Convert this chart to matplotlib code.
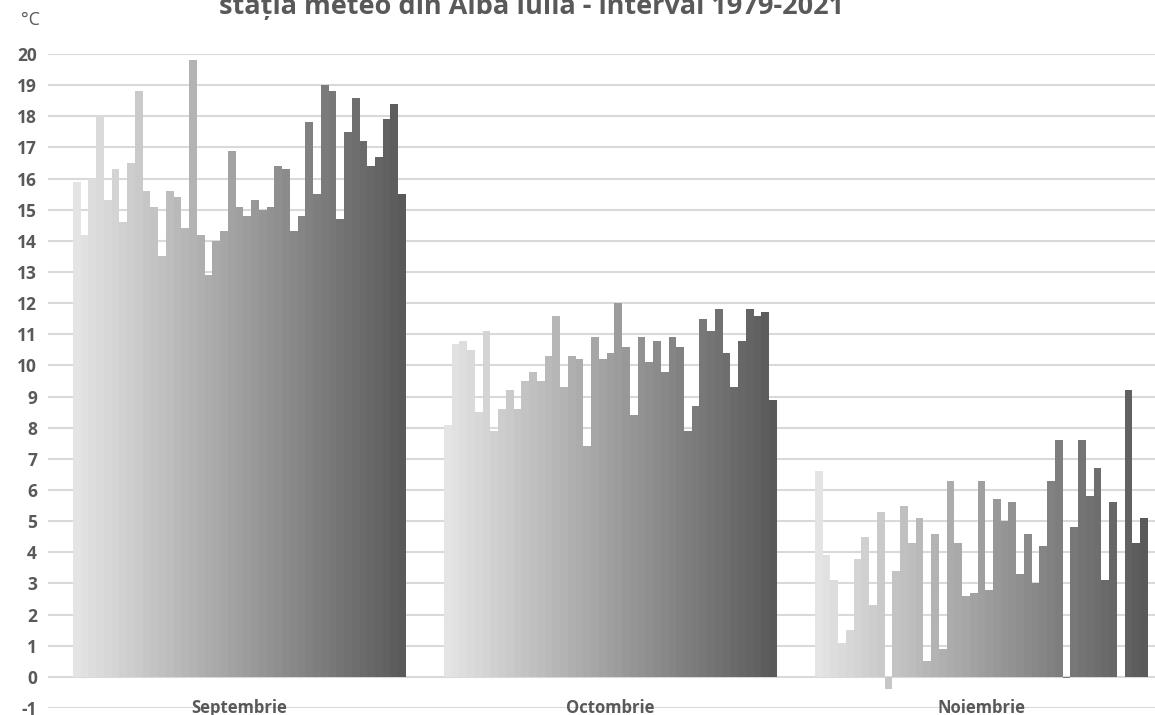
import numpy as np
import matplotlib
matplotlib.use('Agg')
import matplotlib.pyplot as plt
from matplotlib.colors import to_hex

# monthly mean temperature, Alba Iulia, 1979-2021
years = list(range(1979, 2022))
months = ['Septembrie', 'Octombrie', 'Noiembrie']

septembrie = [15.9, 14.2, 16.0, 18.0, 15.3, 16.3, 14.6, 16.5, 18.8, 15.6,
              15.1, 13.5, 15.6, 15.4, 14.4, 19.8, 14.2, 12.9, 14.0, 14.3,
              16.9, 15.1, 14.8, 15.3, 15.0, 15.1, 16.4, 16.3, 14.3, 14.8,
              17.8, 15.5, 19.0, 18.8, 14.7, 17.5, 18.6, 17.2, 16.4, 16.7,
              17.9, 18.4, 15.5]
octombrie = [8.1, 10.7, 10.8, 10.5, 8.5, 11.1, 7.9, 8.6, 9.2, 8.6,
             9.5, 9.8, 9.5, 10.3, 11.6, 9.3, 10.3, 10.2, 7.4, 10.9,
             10.2, 10.4, 12.0, 10.6, 8.4, 10.9, 10.1, 10.8, 9.8, 10.9,
             10.6, 7.9, 8.7, 11.5, 11.1, 11.8, 10.4, 9.3, 10.8, 11.8,
             11.6, 11.7, 8.9]
noiembrie = [6.6, 3.9, 3.1, 1.1, 1.5, 3.8, 4.5, 2.3, 5.3, -0.4,
             3.4, 5.5, 4.3, 5.1, 0.5, 4.6, 0.9, 6.3, 4.3, 2.6,
             2.7, 6.3, 2.8, 5.7, 5.0, 5.6, 3.3, 4.6, 3.0, 4.2,
             6.3, 7.6, -0.05, 4.8, 7.6, 5.8, 6.7, 3.1, 5.6, np.nan,
             9.2, 4.3, 5.1]

data = np.array([septembrie, octombrie, noiembrie])

txt = '#595959'
plt.rcParams['font.family'] = ['Open Sans', 'DejaVu Sans']
plt.rcParams['axes.unicode_minus'] = False

fig = plt.figure(figsize=(11.55, 7.15), dpi=100)
ax = fig.add_axes([0.0416, 0.0098, 0.9584, 0.9147])

n = len(years)
w = 1 / 47.9
x = np.arange(len(months))
for j in range(n):
    g = 228 - (228 - 90) * j / (n - 1)
    ax.bar(x + (j - (n - 1) / 2) * w, data[:, j], width=w,
           color=to_hex((g / 255,) * 3), linewidth=0, zorder=2)

ax.set_ylim(-1, 20)
ax.set_xlim(-0.516, 2.468)
ax.set_yticks(range(-1, 21))
ax.yaxis.grid(True, color='#d9d9d9', linewidth=1.5, zorder=0)
ax.set_axisbelow(True)
ax.set_xticks([])
ax.tick_params(axis='y', length=0, pad=8, labelsize=12.5, labelcolor=txt)
for lab in ax.get_yticklabels():
    lab.set_fontweight('bold')
for s in ax.spines.values():
    s.set_visible(False)

for i, m in enumerate(months):
    ax.text(i, -1.0, m, ha='center', va='center', fontsize=12,
            fontweight='bold', color=txt, zorder=3)

fig.text(0.026, 0.972, '°C', ha='center', va='center', fontsize=13, color=txt)
fig.text(0.46, 0.980, 'stația meteo din Alba Iulia - interval 1979-2021',
         ha='center', va='baseline', fontsize=19.5, fontweight='bold', color=txt)

fig.savefig('out.png', dpi=100)
